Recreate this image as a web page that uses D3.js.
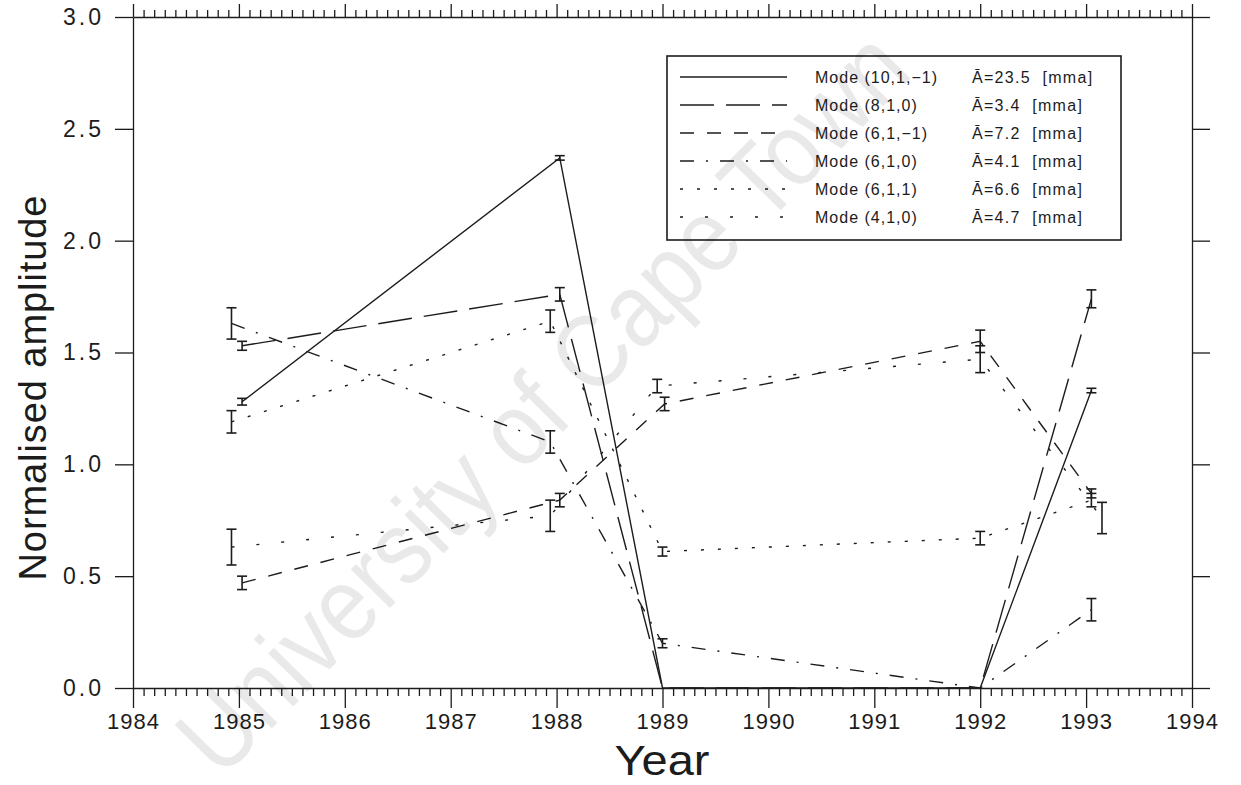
<!DOCTYPE html>
<html>
<head>
<meta charset="utf-8">
<script src="https://cdn.jsdelivr.net/npm/d3@7"></script>
<style>
  body { margin: 0; background: #fff; }
  text { font-family: "Liberation Sans", Arial, sans-serif; }
</style>
</head>
<body>
<div id="canvas"></div>
<script>
"use strict"

/* Data */
let modeNames = ["Mode (10,1,\u22121)", "Mode (8,1,0)", "Mode (6,1,\u22121)", "Mode (6,1,0)", "Mode (6,1,1)", "Mode (4,1,0)"];
let meanAmps = ["23.5", "3.4", "7.2", "4.1", "6.6", "4.7"];

// decimal year of each point, amplitude and error half-width per mode
let years10_1_m1 = [1985.03, 1988.03, 1989.0, 1992.0, 1993.05];
let amp10_1_m1   = [1.28, 2.37, 0.0, 0.0, 1.33];
let err10_1_m1   = [0.015, 0.01, 0, 0, 0.01];

let years8_1_0 = [1985.03, 1988.03, 1989.0, 1992.0, 1993.05];
let amp8_1_0   = [1.53, 1.76, 0.0, 0.0, 1.74];
let err8_1_0   = [0.02, 0.03, 0, 0, 0.04];

let years6_1_m1 = [1985.03, 1988.03, 1989.02, 1992.0, 1993.05];
let amp6_1_m1   = [0.47, 0.84, 1.27, 1.55, 0.87];
let err6_1_m1   = [0.03, 0.03, 0.03, 0.05, 0.02];

let years6_1_0 = [1984.93, 1987.94, 1989.0, 1992.0, 1993.05];
let amp6_1_0   = [1.63, 1.10, 0.20, 0.0, 0.35];
let err6_1_0   = [0.07, 0.05, 0.02, 0, 0.05];

let years6_1_1 = [1984.93, 1987.94, 1989.0, 1992.0, 1993.05];
let amp6_1_1   = [1.19, 1.64, 0.61, 0.67, 0.84];
let err6_1_1   = [0.05, 0.05, 0.02, 0.03, 0.03];

let years4_1_0 = [1984.93, 1987.94, 1988.95, 1992.0, 1993.15];
let amp4_1_0   = [0.63, 0.77, 1.35, 1.47, 0.76];
let err4_1_0   = [0.08, 0.07, 0.03, 0.06, 0.07];

let xTickYears = [1984, 1985, 1986, 1987, 1988, 1989, 1990, 1991, 1992, 1993, 1994];
let yTickValues = [0, 0.5, 1.0, 1.5, 2.0, 2.5, 3.0];

/* Drawing configuration */
let svgWidth = 1241;
let svgHeight = 785;
let plotLeft = 133, plotRight = 1192, plotTop = 17, plotBottom = 688;
let ink = "#1c1c1c";

// dash patterns in the same order as modeNames
let dashes = [null, "34,12", "14,13", "14,12,2,12", "3,14", "3,22"];

let series = [
    {years: years10_1_m1, amps: amp10_1_m1, errs: err10_1_m1},
    {years: years8_1_0, amps: amp8_1_0, errs: err8_1_0},
    {years: years6_1_m1, amps: amp6_1_m1, errs: err6_1_m1},
    {years: years6_1_0, amps: amp6_1_0, errs: err6_1_0},
    {years: years6_1_1, amps: amp6_1_1, errs: err6_1_1},
    {years: years4_1_0, amps: amp4_1_0, errs: err4_1_0}
].map(function (s, i) {
    return {
        name: modeNames[i],
        amp: meanAmps[i],
        dash: dashes[i],
        points: s.years.map(function (yr, j) {
            return {x: yr, y: s.amps[j], e: s.errs[j]};
        })
    };
});

let svg = d3.select("#canvas")
    .append("svg")
    .attr("width", svgWidth)
    .attr("height", svgHeight);

/* Scales */
let xScale = d3.scaleLinear()
    .domain([1984, 1994])
    .range([plotLeft, plotRight]);

let yScale = d3.scaleLinear()
    .domain([0, 3])
    .range([plotBottom, plotTop]);

/* Axes: minor ticks every 0.1 year, majors every year */
let minorYears = d3.range(1984, 1994.001, 0.1).map(function (v) { return Math.round(v * 10) / 10; })
    .filter(function (v) { return xTickYears.indexOf(v) < 0; });

function styleAxis(g) {
    g.selectAll("path, line").attr("stroke", ink).attr("stroke-width", 1.3);
    g.selectAll("text").attr("fill", ink).attr("font-family", "'Liberation Sans', Arial, sans-serif");
}

// bottom minor + major
svg.append("g")
    .attr("transform", "translate(0," + plotBottom + ")")
    .call(d3.axisBottom(xScale).tickValues(minorYears).tickSize(8).tickSizeOuter(0).tickFormat(""))
    .call(styleAxis);

svg.append("g")
    .attr("transform", "translate(0," + plotBottom + ")")
    .call(d3.axisBottom(xScale).tickValues(xTickYears).tickSize(20).tickSizeOuter(0).tickPadding(5)
        .tickFormat(d3.format("d")))
    .call(styleAxis)
    .call(function (g) {
        g.select(".domain").remove();
        g.selectAll("text").attr("font-size", 22).attr("letter-spacing", 1);
    });

// top minor + major
svg.append("g")
    .attr("transform", "translate(0," + plotTop + ")")
    .call(d3.axisTop(xScale).tickValues(minorYears).tickSize(7).tickSizeOuter(0).tickFormat(""))
    .call(styleAxis);

svg.append("g")
    .attr("transform", "translate(0," + plotTop + ")")
    .call(d3.axisTop(xScale).tickValues(xTickYears).tickSize(13).tickSizeOuter(0).tickFormat(""))
    .call(styleAxis)
    .call(function (g) { g.select(".domain").remove(); });

// left with labels
svg.append("g")
    .attr("transform", "translate(" + plotLeft + ",0)")
    .call(d3.axisLeft(yScale).tickValues(yTickValues).tickSize(18).tickSizeOuter(0).tickPadding(11)
        .tickFormat(d3.format(".1f")))
    .call(styleAxis)
    .call(function (g) {
        g.selectAll("text").attr("font-size", 23).attr("letter-spacing", 3);
    });

// right, ticks only
svg.append("g")
    .attr("transform", "translate(" + plotRight + ",0)")
    .call(d3.axisRight(yScale).tickValues(yTickValues).tickSize(18).tickSizeOuter(0).tickFormat(""))
    .call(styleAxis);

/* Axis titles */
svg.append("text")
    .attr("x", 662)
    .attr("y", 775)
    .attr("text-anchor", "middle")
    .attr("font-size", 42)
    .attr("textLength", 95)
    .attr("lengthAdjust", "spacingAndGlyphs")
    .attr("fill", ink)
    .text("Year");

svg.append("text")
    .attr("transform", "translate(46,388) rotate(-90)")
    .attr("text-anchor", "middle")
    .attr("font-size", 38)
    .attr("textLength", 385)
    .attr("lengthAdjust", "spacing")
    .attr("fill", ink)
    .text("Normalised amplitude");

/* Lines */
let lineGen = d3.line()
    .x(function (d) { return xScale(d.x); })
    .y(function (d) { return yScale(d.y); });

svg.append("g")
    .selectAll("path")
    .data(series)
    .join("path")
    .attr("d", function (s) { return lineGen(s.points); })
    .attr("fill", "none")
    .attr("stroke", ink)
    .attr("stroke-width", 1.4)
    .attr("stroke-dasharray", function (s) { return s.dash; });

/* Error bars */
let barData = [];
series.forEach(function (s) {
    s.points.forEach(function (p) {
        if (p.e > 0) barData.push(p);
    });
});

let bars = svg.append("g")
    .selectAll("g")
    .data(barData)
    .join("g")
    .attr("stroke", ink)
    .attr("stroke-width", 1.6);

bars.append("line")
    .attr("x1", function (d) { return xScale(d.x); })
    .attr("x2", function (d) { return xScale(d.x); })
    .attr("y1", function (d) { return yScale(d.y - d.e); })
    .attr("y2", function (d) { return yScale(d.y + d.e); });

bars.append("line")
    .attr("x1", function (d) { return xScale(d.x) - 5; })
    .attr("x2", function (d) { return xScale(d.x) + 5; })
    .attr("y1", function (d) { return yScale(d.y - d.e); })
    .attr("y2", function (d) { return yScale(d.y - d.e); });

bars.append("line")
    .attr("x1", function (d) { return xScale(d.x) - 5; })
    .attr("x2", function (d) { return xScale(d.x) + 5; })
    .attr("y1", function (d) { return yScale(d.y + d.e); })
    .attr("y2", function (d) { return yScale(d.y + d.e); });

/* Legend */
let legendX = 667, legendY = 56;
let legendW = 454, legendH = 184;
let rowStep = 28;

let legend = svg.append("g")
    .attr("transform", "translate(" + legendX + "," + legendY + ")");

legend.append("rect")
    .attr("width", legendW)
    .attr("height", legendH)
    .attr("fill", "#fff")
    .attr("stroke", ink)
    .attr("stroke-width", 1.6);

let rows = legend.selectAll("g.row")
    .data(series)
    .join("g")
    .attr("class", "row")
    .attr("transform", function (d, i) { return "translate(0," + (21 + i * rowStep) + ")"; });

rows.append("line")
    .attr("x1", 13)
    .attr("x2", 120)
    .attr("stroke", ink)
    .attr("stroke-width", 1.4)
    .attr("stroke-dasharray", function (d) { return d.dash; });

rows.append("text")
    .attr("x", 148)
    .attr("dy", "0.35em")
    .attr("font-size", 16)
    .attr("letter-spacing", 1)
    .attr("fill", ink)
    .text(function (d) { return d.name; });

rows.append("text")
    .attr("x", 305)
    .attr("dy", "0.35em")
    .attr("font-size", 16)
    .attr("letter-spacing", 1.3)
    .attr("xml:space", "preserve")
    .attr("fill", ink)
    .text(function (d) { return "\u0100=" + d.amp + "  [mma]"; });

/* Watermark on top, very light */
svg.append("text")
    .attr("transform", "translate(548,408) rotate(-45.5)")
    .attr("text-anchor", "middle")
    .attr("dominant-baseline", "middle")
    .attr("font-size", 104)
    .attr("textLength", 990)
    .attr("lengthAdjust", "spacingAndGlyphs")
    .attr("fill", "#000")
    .attr("fill-opacity", 0.085)
    .text("University of Cape Town");
</script>
</body>
</html>
